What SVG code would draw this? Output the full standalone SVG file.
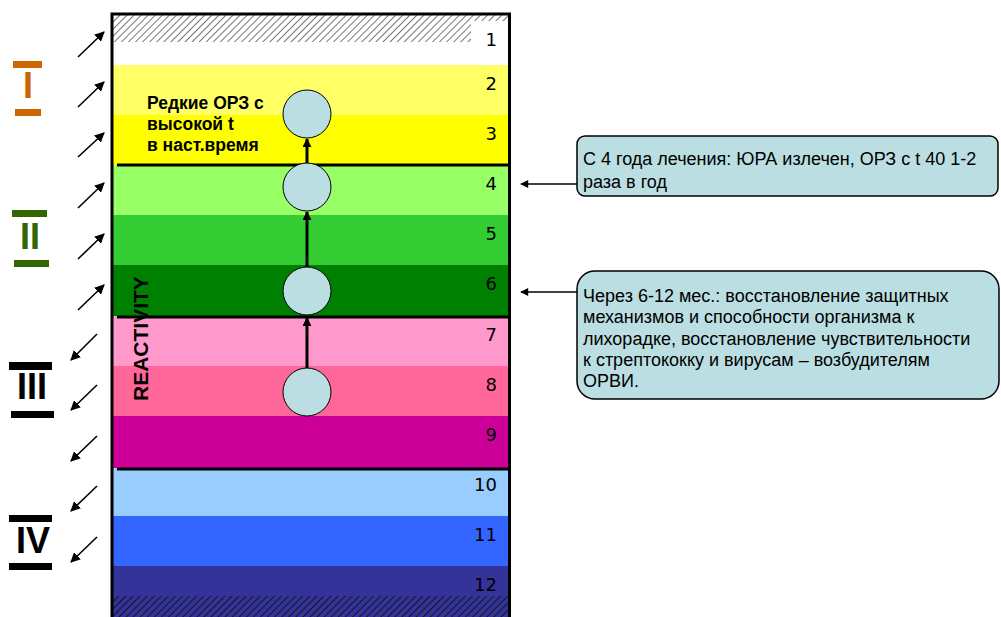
<svg xmlns="http://www.w3.org/2000/svg" width="1001" height="617" viewBox="0 0 1001 617">
  <style>
    .num { font-family: "DejaVu Sans", Verdana, sans-serif; font-size: 18px; fill: #000; text-anchor: end; }
    .roman { font-family: "Liberation Sans", Arial, sans-serif; font-weight: bold; font-size: 36px; }
    .bubble { fill: #BADEE1; stroke: #000; stroke-width: 1; }
    .divider { stroke: #000; stroke-width: 3; }
    .diag { stroke: #000; stroke-width: 1.6; fill: none; }
    .step { stroke: #000; stroke-width: 3; fill: none; }
    .callout { fill: #BADEE1; stroke: #000; stroke-width: 1.5; }
    .ctext { font-family: "Liberation Sans", Arial, sans-serif; font-size: 18px; fill: #000; }
    .note { font-family: "Liberation Sans", Arial, sans-serif; font-weight: bold; font-size: 17.5px; fill: #000; }
    .axis { font-family: "Liberation Sans", Arial, sans-serif; font-weight: bold; font-size: 21px; fill: #000; }
  </style>
  <defs>
    <pattern id="hatchLight" width="5" height="5" patternUnits="userSpaceOnUse" patternTransform="rotate(45)">
      <rect width="5" height="5" fill="#fff"/>
      <line x1="0" y1="0" x2="0" y2="5" stroke="#666" stroke-width="1.8"/>
    </pattern>
    <pattern id="hatchDark" width="5" height="5" patternUnits="userSpaceOnUse" patternTransform="rotate(45)">
      <rect width="5" height="5" fill="#333399"/>
      <line x1="0" y1="0" x2="0" y2="5" stroke="#111" stroke-width="1.8"/>
    </pattern>
    <marker id="headDiag" viewBox="0 0 10 10" refX="9" refY="5" markerWidth="10" markerHeight="10" markerUnits="userSpaceOnUse" orient="auto">
      <path d="M0,0 L10,5 L0,10 Z" fill="#000"/>
    </marker>
    <marker id="headStep" viewBox="0 0 10 10" refX="9" refY="5" markerWidth="9" markerHeight="9" markerUnits="userSpaceOnUse" orient="auto">
      <path d="M0,0 L10,5 L0,10 Z" fill="#000"/>
    </marker>
    <marker id="headCallout" viewBox="0 0 10 10" refX="9" refY="5" markerWidth="9" markerHeight="8" markerUnits="userSpaceOnUse" orient="auto">
      <path d="M0,0 L10,5 L0,10 Z" fill="#000"/>
    </marker>
  </defs>

  <rect width="1001" height="617" fill="#fff"/>

  <!-- reactivity scale: twelve bands -->
  <g id="scale">
    <rect x="113" y="15" width="396" height="27" fill="url(#hatchLight)"/>
    <rect x="471" y="21" width="38" height="21" fill="#fff"/>
    <rect x="113" y="42" width="396" height="23" fill="#fff"/>
    <rect x="113" y="65" width="396" height="50" fill="#FFFF66"/>
    <rect x="113" y="115" width="396" height="50" fill="#FFFF00"/>
    <rect x="113" y="165" width="396" height="50" fill="#99FF66"/>
    <rect x="113" y="215" width="396" height="50" fill="#33CC33"/>
    <rect x="113" y="265" width="396" height="51" fill="#008000"/>
    <rect x="113" y="316" width="396" height="50" fill="#FF99CC"/>
    <rect x="113" y="366" width="396" height="50" fill="#FF6699"/>
    <rect x="113" y="416" width="396" height="52" fill="#CC0099"/>
    <rect x="113" y="468" width="396" height="48" fill="#99CCFF"/>
    <rect x="113" y="516" width="396" height="50" fill="#3366FF"/>
    <rect x="113" y="566" width="396" height="30" fill="#333399"/>
    <rect x="113" y="596" width="396" height="21" fill="url(#hatchDark)"/>

    <line class="divider" x1="117" y1="165" x2="509" y2="165"/>
    <line class="divider" x1="117" y1="317" x2="509" y2="317"/>
    <line class="divider" x1="117" y1="469" x2="509" y2="469"/>

    <path d="M112,617 V14 H509.5 V617" fill="none" stroke="#000" stroke-width="3"/>

    <text class="num" x="497" y="46">1</text>
    <text class="num" x="497" y="90">2</text>
    <text class="num" x="497" y="140">3</text>
    <text class="num" x="497" y="190">4</text>
    <text class="num" x="497" y="240">5</text>
    <text class="num" x="497" y="290">6</text>
    <text class="num" x="497" y="341">7</text>
    <text class="num" x="497" y="391">8</text>
    <text class="num" x="497" y="441">9</text>
    <text class="num" x="497" y="491">10</text>
    <text class="num" x="497" y="541">11</text>
    <text class="num" x="497" y="591">12</text>

    <text class="note" x="147" y="109">Редкие ОРЗ с</text>
    <text class="note" x="147" y="130">высокой t</text>
    <text class="note" x="147" y="151">в наст.время</text>

    <text class="axis" transform="translate(148,401) rotate(-90)">REACTIVITY</text>
  </g>

  <!-- stage nodes -->
  <g id="stage-8"><circle class="bubble" cx="307" cy="392" r="24"/></g>
  <g id="stage-6"><circle class="bubble" cx="307" cy="291" r="24"/></g>
  <g id="stage-4"><circle class="bubble" cx="307" cy="187" r="24"/></g>
  <g id="stage-2"><circle class="bubble" cx="307" cy="114" r="24"/></g>

  <!-- group labels -->
  <g id="group-I" fill="#CC6600">
    <rect x="13" y="61" width="29" height="7"/>
    <text class="roman" x="28" y="98" text-anchor="middle">I</text>
    <rect x="15" y="109" width="26" height="7"/>
  </g>
  <g id="group-II" fill="#336600">
    <rect x="12" y="210" width="35" height="7"/>
    <text class="roman" x="30" y="249" text-anchor="middle">II</text>
    <rect x="14" y="260" width="35" height="7"/>
  </g>
  <g id="group-III" fill="#000">
    <rect x="9" y="362" width="43" height="8"/>
    <text class="roman" x="32" y="399" text-anchor="middle">III</text>
    <rect x="11" y="411" width="43" height="7"/>
  </g>
  <g id="group-IV" fill="#000">
    <rect x="9" y="515" width="43" height="7"/>
    <text class="roman" x="33" y="553" text-anchor="middle">IV</text>
    <rect x="9" y="563" width="43" height="7"/>
  </g>

  <!-- callouts -->
  <g id="callout-4">
    <rect class="callout" x="577" y="136" width="421" height="60" rx="8"/>
    <text class="ctext" x="583" y="165">С 4 года лечения: ЮРА излечен, ОРЗ с t 40 1-2</text>
    <text class="ctext" x="583" y="188">раза в год</text>
  </g>
  <g id="callout-6">
    <rect class="callout" x="577" y="271" width="422" height="128" rx="18"/>
    <text class="ctext" x="583" y="302">Через 6-12 мес.: восстановление защитных</text>
    <text class="ctext" x="583" y="323">механизмов и способности организма к</text>
    <text class="ctext" x="583" y="345">лихорадке, восстановление чувствительности</text>
    <text class="ctext" x="583" y="366">к стрептококку и вирусам – возбудителям</text>
    <text class="ctext" x="583" y="387">ОРВИ.</text>
  </g>

  <!-- connectors -->
  <g id="connectors">
    <line class="step" x1="307" y1="368" x2="307" y2="318" marker-end="url(#headStep)"/>
    <line class="step" x1="307" y1="267" x2="307" y2="212" marker-end="url(#headStep)"/>
    <line class="step" x1="307" y1="163" x2="307" y2="139" marker-end="url(#headStep)"/>

    <line x1="577" y1="184" x2="521" y2="184" stroke="#000" stroke-width="1.5" marker-end="url(#headCallout)"/>
    <line x1="577" y1="292" x2="521" y2="292" stroke="#000" stroke-width="1.5" marker-end="url(#headCallout)"/>

    <line class="diag" x1="78" y1="57" x2="104" y2="32" marker-end="url(#headDiag)"/>
    <line class="diag" x1="78" y1="107" x2="104" y2="82" marker-end="url(#headDiag)"/>
    <line class="diag" x1="78" y1="157" x2="104" y2="133" marker-end="url(#headDiag)"/>
    <line class="diag" x1="78" y1="208" x2="104" y2="183" marker-end="url(#headDiag)"/>
    <line class="diag" x1="78" y1="259" x2="104" y2="234" marker-end="url(#headDiag)"/>
    <line class="diag" x1="78" y1="310" x2="104" y2="285" marker-end="url(#headDiag)"/>
    <line class="diag" x1="97" y1="334" x2="71" y2="360" marker-end="url(#headDiag)"/>
    <line class="diag" x1="97" y1="385" x2="71" y2="410" marker-end="url(#headDiag)"/>
    <line class="diag" x1="97" y1="436" x2="71" y2="461" marker-end="url(#headDiag)"/>
    <line class="diag" x1="97" y1="486" x2="71" y2="511" marker-end="url(#headDiag)"/>
    <line class="diag" x1="97" y1="537" x2="71" y2="562" marker-end="url(#headDiag)"/>
  </g>
</svg>
